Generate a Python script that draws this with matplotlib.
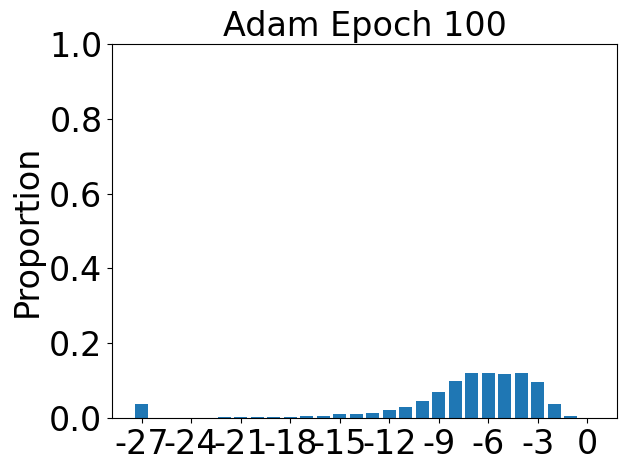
import matplotlib
matplotlib.use("Agg")
import matplotlib.pyplot as plt

positions = [-27, -26, -25, -24, -23, -22, -21, -20, -19, -18, -17, -16, -15, -14,
             -13, -12, -11, -10, -9, -8, -7, -6, -5, -4, -3, -2, -1, 0]
proportions = [0.038, 0.0, 0.0, 0.0, 0.0, 0.0027, 0.0027, 0.0027, 0.0027, 0.003,
               0.0053, 0.0055, 0.009, 0.011, 0.0134, 0.021, 0.029, 0.045, 0.070,
               0.099, 0.120, 0.120, 0.118, 0.120, 0.096, 0.037, 0.005, 0.0]
xticks = [-27, -24, -21, -18, -15, -12, -9, -6, -3, 0]

plt.rcParams['font.size'] = 24
plt.rcParams['axes.unicode_minus'] = False
fig, ax = plt.subplots(figsize=(6.3, 4.7), dpi=100)
ax.bar(positions, proportions, color='#1f77b4')
ax.set_ylim(0, 1.0)
ax.set_xticks(xticks)
ax.set_ylabel('Proportion')
ax.set_title('Adam Epoch 100', fontsize=24)
fig.subplots_adjust(left=0.178, right=0.979, top=0.906, bottom=0.111)
fig.savefig('out.png', dpi=100)
